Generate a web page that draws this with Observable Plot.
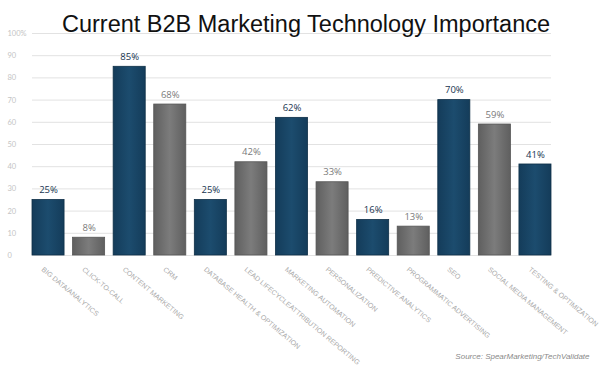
<!DOCTYPE html>
<html>
<head>
<meta charset="utf-8">
<script src="https://cdn.jsdelivr.net/npm/d3@7"></script>
<script src="https://cdn.jsdelivr.net/npm/@observablehq/plot@0.6"></script>
<style>
  html, body { margin: 0; padding: 0; background: #fff; }
  #chart svg { display: block; }
</style>
</head>
<body>
<div id="chart"></div>
<script>
const categories = [
  "BIG DATA/ANALYTICS",
  "CLICK-TO-CALL",
  "CONTENT MARKETING",
  "CRM",
  "DATABASE HEALTH & OPTIMIZATION",
  "LEAD LIFECYCLEATTRIBUTION REPORTING",
  "MARKETING AUTOMATION",
  "PERSONALIZATION",
  "PREDICTIVE ANALYTICS",
  "PROGRAMMATIC ADVERTISING",
  "SEO",
  "SOCIAL MEDIA MANAGEMENT",
  "TESTING & OPTIMIZATION"
];
const values = [25, 8, 85, 68, 25, 42, 62, 33, 16, 13, 70, 59, 41];
const yTicks = [0, 10, 20, 30, 40, 50, 60, 70, 80, 90, 100];
const yTickLabels = ["0", "10", "20", "30", "40", "50", "60", "70", "80", "90", "100%"];
const title = "Current B2B Marketing Technology Importance";
const source = "Source: SpearMarketing/TechValidate";

const data = categories.map((c, i) => ({category: c, value: values[i], blue: i % 2 === 0}));
const ticks = yTicks.map((t, i) => ({t, label: yTickLabels[i]}));

const chart = Plot.plot({
  width: 608,
  height: 368,
  marginTop: 33,
  marginBottom: 113,
  marginLeft: 32,
  marginRight: 57,
  style: {background: "#fff", overflow: "visible"},
  x: {domain: categories, paddingInner: 0.21, paddingOuter: 0, align: 0, round: false, axis: null},
  y: {domain: [0, 100], axis: null},
  marks: [
    Plot.ruleY(yTicks, {stroke: "#e2e2e2", strokeWidth: 1}),
    Plot.ruleX([0], {x: () => null, frameAnchor: "left", y1: 0, y2: 100, stroke: "#e2e2e2"}),
    Plot.text(ticks, {y: "t", text: "label", frameAnchor: "left", dx: -25, textAnchor: "start",
      fill: "#c4c4c4", fontSize: 7.5, fontFamily: "Lato, sans-serif"}),
    Plot.barY(data, {x: "category", y: "value",
      fill: d => d.blue ? "url(#gBlue)" : "url(#gGray)",
      stroke: d => d.blue ? "#0e2f47" : "#555",
      strokeWidth: 0.8}),
    Plot.text(data, {x: "category", y: "value", text: d => d.value + "%", dy: -10,
      fill: d => d.blue ? "#17344f" : "#7a7a7a",
      fontWeight: d => d.blue ? "bold" : "normal",
      fontSize: 9.5, fontFamily: "Open Sans, sans-serif"}),
    Plot.text(data, {x: "category", y: 0, text: "category", rotate: 40, textAnchor: "start",
      dx: -6, dy: 13, fill: "#a9a9a9", fontSize: 7, fontFamily: "Liberation Sans, Arial, sans-serif"}),
    Plot.text([title], {frameAnchor: "top", text: d => d, dy: -18, dx: 14,
      fontSize: 23.5, fill: "#111", fontFamily: "Liberation Sans, Arial, sans-serif"}),
    Plot.text([source], {frameAnchor: "bottom-right", text: d => d, dx: 38, dy: 103, textAnchor: "end",
      fontSize: 8, fontStyle: "italic", fill: "#8a8a8a", fontFamily: "Liberation Sans, Arial, sans-serif"})
  ]
});

const svg = d3.select(chart);
const defs = svg.insert("defs", ":first-child");
const gb = defs.append("linearGradient").attr("id", "gBlue").attr("x1", "0").attr("x2", "1").attr("y1", "0").attr("y2", "0");
gb.append("stop").attr("offset", "0").attr("stop-color", "#143c5a");
gb.append("stop").attr("offset", "0.5").attr("stop-color", "#1c4c6e");
gb.append("stop").attr("offset", "1").attr("stop-color", "#143c5a");
const gg = defs.append("linearGradient").attr("id", "gGray").attr("x1", "0").attr("x2", "1").attr("y1", "0").attr("y2", "0");
gg.append("stop").attr("offset", "0").attr("stop-color", "#5f5f5f");
gg.append("stop").attr("offset", "0.5").attr("stop-color", "#7c7c7c");
gg.append("stop").attr("offset", "1").attr("stop-color", "#5f5f5f");

document.getElementById("chart").appendChild(chart);
</script>
</body>
</html>
